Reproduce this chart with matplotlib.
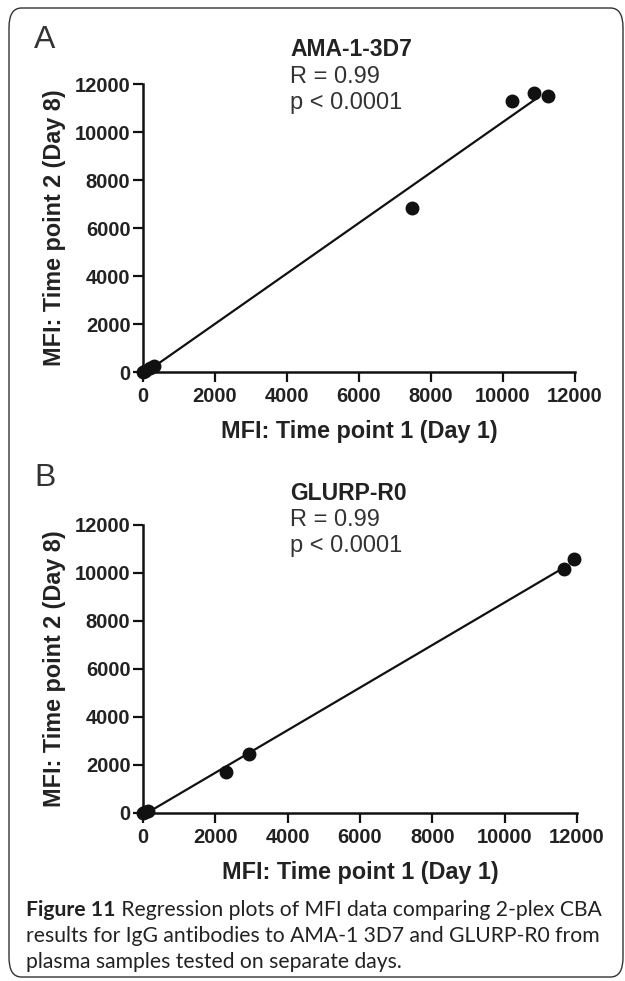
import numpy as np
import matplotlib
matplotlib.use("Agg")
import matplotlib.pyplot as plt
from matplotlib.patches import FancyBboxPatch

# ---- data ----
ama_x = [0, 60, 200, 300, 7470, 10250, 10860, 11250]
ama_y = [0, 40, 150, 260, 6830, 11290, 11625, 11500]
glurp_x = [0, 60, 150, 2295, 2930, 11640, 11916]
glurp_y = [0, 30, 90, 1708, 2458, 10167, 10583]
ticks = [0, 2000, 4000, 6000, 8000, 10000, 12000]
titles = ["AMA-1-3D7", "GLURP-R0"]
stats = ["R = 0.99", "p < 0.0001"]
panel_letters = ["A", "B"]
xlabel = "MFI: Time point 1 (Day 1)"
ylabel = "MFI: Time point 2 (Day 8)"
caption_bold = "Figure 11"
caption_lines = [" Regression plots of MFI data comparing 2-plex CBA",
                 "results for IgG antibodies to AMA-1 3D7 and GLURP-R0 from",
                 "plasma samples tested on separate days."]

W, H = 625, 981
fig = plt.figure(figsize=(W/100, H/100), dpi=100)
plt.rcParams['font.family'] = ['Liberation Sans', 'DejaVu Sans']

def fx(px):
    return px / W
def fy(py):
    return 1 - py / H

# outer rounded frame
box = FancyBboxPatch((fx(9), fy(977)), fx(623) - fx(9), fy(8) - fy(977),
                     boxstyle="round,pad=0,rounding_size=0.02",
                     transform=fig.transFigure, fill=False,
                     edgecolor="#333333", linewidth=1.0)
fig.patches.append(box)

panels = [
    dict(x=ama_x, y=ama_y, left=143, right=575, y0=372, y1=84,
         letter_y=40, title_y=50),
    dict(x=glurp_x, y=glurp_y, left=143, right=577, y0=813, y1=525,
         letter_y=478, title_y=493),
]

for i, p in enumerate(panels):
    ax = fig.add_axes([fx(p['left']), fy(p['y0']),
                       fx(p['right']) - fx(p['left']), (p['y0'] - p['y1']) / H])
    xs = np.array(p['x'], dtype=float)
    ys = np.array(p['y'], dtype=float)
    slope, intercept = np.polyfit(xs, ys, 1)
    xl = np.array([0, xs.max() * 0.97])
    ax.plot(xl, slope * xl + intercept, color="#111111", lw=1.6, clip_on=False)
    ax.plot(xs, ys, 'o', color="#111111", ms=9, clip_on=False, zorder=5)
    ax.set_xlim(0, 12000)
    ax.set_ylim(0, 12000)
    ax.set_xticks(ticks)
    ax.set_yticks(ticks)
    ax.set_xticklabels([str(t) for t in ticks])
    ax.set_yticklabels([str(t) for t in ticks])
    for s in ['top', 'right']:
        ax.spines[s].set_visible(False)
    for s in ['left', 'bottom']:
        ax.spines[s].set_linewidth(1.8)
        ax.spines[s].set_color("#111111")
    ax.tick_params(axis='both', length=7, width=1.6, color="#111111",
                   labelsize=14.5, pad=2, labelcolor="#222222")
    ax.tick_params(axis='x', pad=4)
    for lab in ax.get_xticklabels() + ax.get_yticklabels():
        lab.set_fontweight('bold')
    ax.set_xlabel(xlabel, fontsize=16.8, fontweight='bold', color="#222222", labelpad=10)
    ax.set_ylabel(ylabel, fontsize=16.8, fontweight='bold', color="#222222", labelpad=6)
    ax.patch.set_alpha(0)

    fig.text(fx(45), fy(p['letter_y']), panel_letters[i], fontsize=23,
             color="#333333", ha='center', va='center')
    fig.text(fx(290), fy(p['title_y']), titles[i], fontsize=16.5,
             fontweight='bold', color="#222222", ha='left', va='center')
    fig.text(fx(290), fy(p['title_y'] + 27), stats[0], fontsize=17,
             color="#333333", ha='left', va='center')
    fig.text(fx(290), fy(p['title_y'] + 53), stats[1], fontsize=17,
             color="#333333", ha='left', va='center')

# caption
cap_font = ['Lato', 'DejaVu Sans']
renderer = fig.canvas.get_renderer()
cap_y = [910, 936, 962]
tb = fig.text(fx(26), fy(cap_y[0]), caption_bold, fontsize=15.2, fontweight='bold',
              family=cap_font, color="#222222", ha='left', va='center')
bb = tb.get_window_extent(renderer=renderer)
x_after = bb.x1 / (W)
fig.text(x_after, fy(cap_y[0]), caption_lines[0], fontsize=15.2,
         family=cap_font, color="#222222", ha='left', va='center')
for line, yy in zip(caption_lines[1:], cap_y[1:]):
    fig.text(fx(26), fy(yy), line, fontsize=15.2, family=cap_font,
             color="#222222", ha='left', va='center')

fig.savefig("out.png", dpi=100)
